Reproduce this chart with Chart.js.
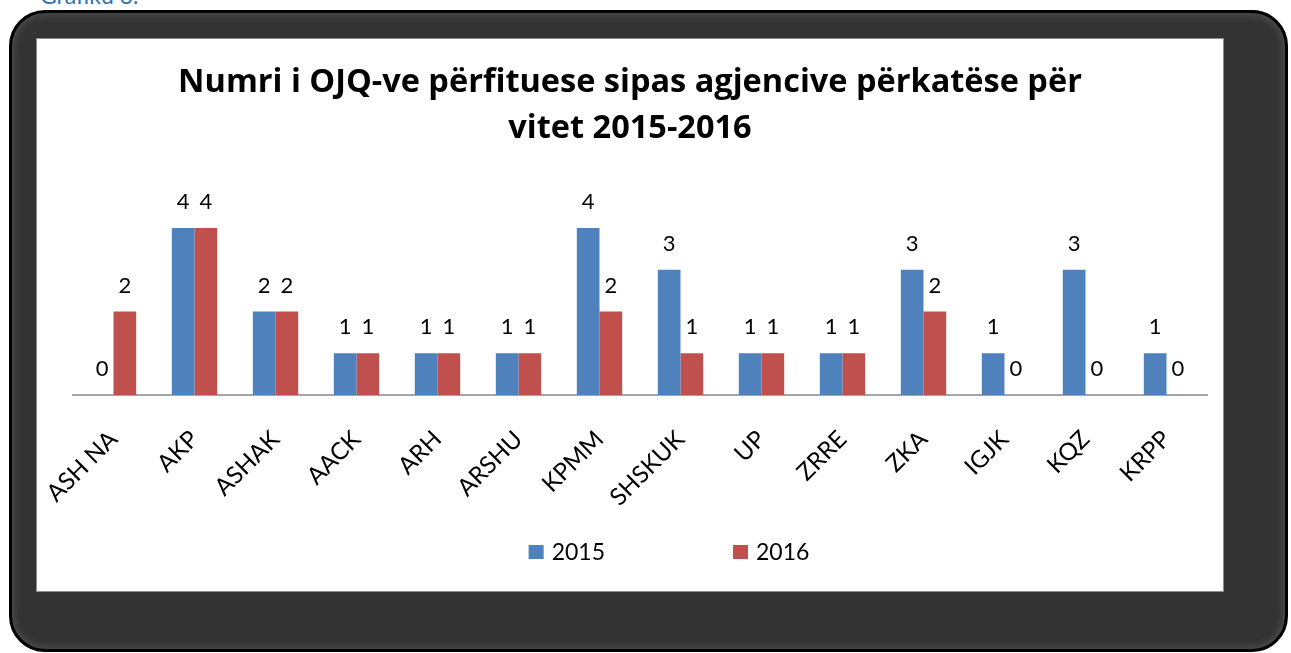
<!DOCTYPE html>
<html>
<head>
  <meta charset="UTF-8">
  <title>Numri i OJQ-ve</title>
  <script src="https://cdn.jsdelivr.net/npm/chart.js"></script>
  <style>
    body {
      margin: 0;
      background: #fff;
      font-family: Lato, "Open Sans", sans-serif;
      width: 1291px;
      height: 653px;
      overflow: hidden;
      position: relative;
    }
    .caption {
      position: absolute;
      left: 40px;
      top: -19px;
      font-size: 23px;
      color: #2E74B5;
    }
    .frame {
      position: absolute;
      left: 9px;
      top: 10px;
      width: 1273px;
      height: 636px;
      background: #333;
      border: 3px solid #000;
      border-radius: 36px;
      box-shadow: inset 0 0 6px 3px #4a4a4a;
    }
    .panel {
      position: absolute;
      left: 36px;
      top: 38px;
      width: 1186px;
      height: 552px;
      background: #fff;
      border: 1px solid #8c8c8c;
    }
    #chart {
      display: block;
    }
  </style>
</head>
<body>
<div class="caption">Grafiku 3.</div>
<div class="frame"></div>
<div class="panel">
  <canvas id="chart" width="1186" height="552"></canvas>
</div>

<script>
  // Agjencitë dhe numri i OJQ-ve për çdo vit
  const agencies = ['ASH NA', 'AKP', 'ASHAK', 'AACK', 'ARH', 'ARSHU', 'KPMM',
                    'SHSKUK', 'UP', 'ZRRE', 'ZKA', 'IGJK', 'KQZ', 'KRPP'];
  const values2015 = [0, 4, 2, 1, 1, 1, 4, 3, 1, 1, 3, 1, 3, 1];
  const values2016 = [2, 4, 2, 1, 1, 1, 2, 1, 1, 1, 2, 0, 0, 0];
  const seriesNames = ['2015', '2016'];
  const seriesColors = ['#4F81BD', '#C0504D'];

  const FONT = 'Lato, "Open Sans", sans-serif';

  // numbers above each bar
  const valueLabels = {
    id: 'valueLabels',
    afterDatasetsDraw(chart) {
      const ctx = chart.ctx;
      ctx.save();
      ctx.font = '22px ' + FONT;
      ctx.fillStyle = '#000';
      ctx.textAlign = 'center';
      ctx.textBaseline = 'middle';
      chart.data.datasets.forEach((ds, i) => {
        chart.getDatasetMeta(i).data.forEach((bar, j) => {
          ctx.fillText(String(ds.data[j]), bar.x, bar.y - 26);
        });
      });
      ctx.restore();
    }
  };

  // legend drawn by hand so the two items can sit far apart
  const wideLegend = {
    id: 'wideLegend',
    afterDraw(chart) {
      const ctx = chart.ctx;
      ctx.save();
      ctx.font = '23px ' + FONT;
      ctx.textBaseline = 'middle';
      const gap = 128;
      const items = chart.data.datasets.map(ds => ({
        label: ds.label, color: ds.backgroundColor,
        w: 15 + 8 + ctx.measureText(ds.label).width
      }));
      const total = items.reduce((s, it) => s + it.w, 0) + gap * (items.length - 1);
      let x = chart.width / 2 + 39 - total / 2;
      const y = 513;
      items.forEach(it => {
        ctx.fillStyle = it.color;
        ctx.fillRect(x, y - 7, 15, 14);
        ctx.fillStyle = '#000';
        ctx.fillText(it.label, x + 23, y + 1);
        x += it.w + gap;
      });
      ctx.restore();
    }
  };

  new Chart(document.getElementById('chart'), {
    type: 'bar',
    data: {
      labels: agencies,
      datasets: [
        { label: seriesNames[0], data: values2015, backgroundColor: seriesColors[0] },
        { label: seriesNames[1], data: values2016, backgroundColor: seriesColors[1] }
      ]
    },
    options: {
      responsive: false,
      animation: false,
      categoryPercentage: 0.56,
      barPercentage: 1,
      layout: { padding: { left: 16, right: 16, top: 0, bottom: 0 } },
      plugins: {
        legend: { display: false },
        tooltip: { enabled: false },
        title: {
          display: true,
          text: ['Numri i OJQ-ve përfituese sipas agjencive përkatëse për', 'vitet 2015-2016'],
          color: '#000',
          font: { family: '"Open Sans", Lato, sans-serif', size: 32.5, weight: 'bold', lineHeight: 1.42 },
          padding: { top: 21, bottom: 34 }
        }
      },
      scales: {
        x: {
          grid: { display: false, drawTicks: false },
          border: { color: '#a6a6a6', width: 2 },
          ticks: {
            color: '#000',
            font: { family: FONT, size: 24 },
            minRotation: 45,
            maxRotation: 45,
            padding: 30
          },
          afterFit(scale) {
            scale.height = 196;
            scale.paddingLeft = 0;
            scale.paddingRight = 0;
          }
        },
        y: {
          min: 0,
          max: 5,
          grid: { display: false },
          border: { display: false },
          ticks: { display: false },
          afterFit(scale) { scale.width = 20; }
        }
      }
    },
    plugins: [valueLabels, wideLegend]
  });
</script>
</body>
</html>
